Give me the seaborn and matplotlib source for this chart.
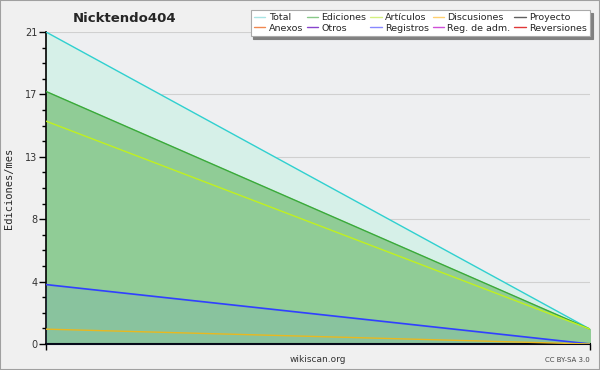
import numpy as np
import pandas as pd
import matplotlib
matplotlib.use("Agg")
import matplotlib.pyplot as plt
import seaborn as sns

# two monthly points
months = [0, 1]
total = [21, 1]
ediciones = [17, 1]
articulos = [15, 1]
registros = [4, 0]
discusiones = [1, 0]

legend_names = ["Total", "Anexos", "Ediciones", "Otros", "Artículos", "Registros",
                "Discusiones", "Reg. de adm.", "Proyecto", "Reversiones"]
legend_colors = ["#a8e4e4", "#f08850", "#88c888", "#8844cc", "#d4f080", "#8888ff",
                 "#ffd070", "#d050d8", "#606060", "#e03838"]

sns.set_style("white")
plt.rcParams['font.family'] = ['DejaVu Sans']

fig = plt.figure(figsize=(6, 3.7), dpi=100, facecolor="#f0f0f0")
ax = fig.add_axes([46/600, 1-344/370, 544/600, 312/370])
ax.set_facecolor("#eeeff1")

df = pd.DataFrame({"mois": months, "Total": total, "Ediciones": ediciones,
                   "Artículos": articulos, "Registros": registros,
                   "Discusiones": discusiones})

# fills
ax.fill_between(df["mois"], df["Total"], color="#d6f0e8", zorder=1)
ax.fill_between(df["mois"], df["Ediciones"], color="#90cc96", zorder=2)
ax.fill_between(df["mois"], df["Registros"], color="#4060ff", alpha=0.08, zorder=3)

sns.lineplot(data=df, x="mois", y="Total", color="#30d0d0", lw=1, ax=ax, zorder=4)
sns.lineplot(data=df, x="mois", y="Ediciones", color="#3aaa3a", lw=1, ax=ax, zorder=4)
sns.lineplot(data=df, x="mois", y="Artículos", color="#c0f020", lw=1, ax=ax, zorder=4)
sns.lineplot(data=df, x="mois", y="Registros", color="#3040ff", lw=1.2, ax=ax, zorder=4)
sns.lineplot(data=df, x="mois", y="Discusiones", color="#e8b820", lw=1, ax=ax, zorder=4)

ax.set_xlim(0, 1)
ax.set_ylim(0, 21)
yt = np.linspace(0, 21, 6)
ax.set_yticks(yt)
ax.set_yticklabels([str(int(round(v))) for v in yt], fontsize=7, color="#333333")
ax.set_yticks(np.arange(0, 21.01, 1.05), minor=True)
ax.tick_params(axis="y", which="major", length=5, width=1, color="black", pad=1, direction="out", left=True)
ax.tick_params(axis="y", which="minor", length=3, width=1, color="black", left=True)
ax.set_xticks([0, 1])
ax.set_xticklabels(["", ""])
ax.tick_params(axis="x", length=4, width=1, color="black", bottom=True)
ax.yaxis.grid(True, color="#d0d0d0", lw=0.8, zorder=0)
ax.set_axisbelow(True)
for s in ["top", "right"]:
    ax.spines[s].set_visible(False)
ax.spines["left"].set_color("black")
ax.spines["bottom"].set_color("black")
ax.spines["left"].set_linewidth(1.2)
ax.spines["bottom"].set_linewidth(1.5)
ax.set_xlabel("")
ax.set_ylabel("Ediciones/mes", family="DejaVu Sans Mono", fontsize=7.5, labelpad=8)

handles = [plt.Line2D([], [], color=c, lw=1) for c in legend_colors]
leg = fig.legend(handles, legend_names, ncol=5, loc="upper right",
                 bbox_to_anchor=(590/600, 1-10/370), fontsize=6.8,
                 frameon=True, fancybox=False, shadow={"color": "#808080", "alpha": 1},
                 handlelength=1.2, handletextpad=0.35, columnspacing=0.4,
                 labelspacing=0.15, borderpad=0.35, borderaxespad=0)
leg.get_frame().set_edgecolor("#aaaaaa")
leg.get_frame().set_linewidth(0.8)
leg.get_frame().set_facecolor("white")

fig.text(125/600, 1-18/370, "Nicktendo404", ha="center", va="center",
         fontsize=9.5, fontweight="bold")
fig.text(318/600, 1-360/370, "wikiscan.org", ha="center", va="center", fontsize=6.5, color="#333333")
fig.text(590/600, 1-360/370, "CC BY-SA 3.0", ha="right", va="center", fontsize=5, color="#444444")

# outer border
fig.patches.append(plt.Rectangle((0, 0), 1, 1, transform=fig.transFigure, fill=False,
                                 edgecolor="#a0a0a0", lw=1.5))

fig.savefig("out.png", dpi=100, facecolor=fig.get_facecolor())
